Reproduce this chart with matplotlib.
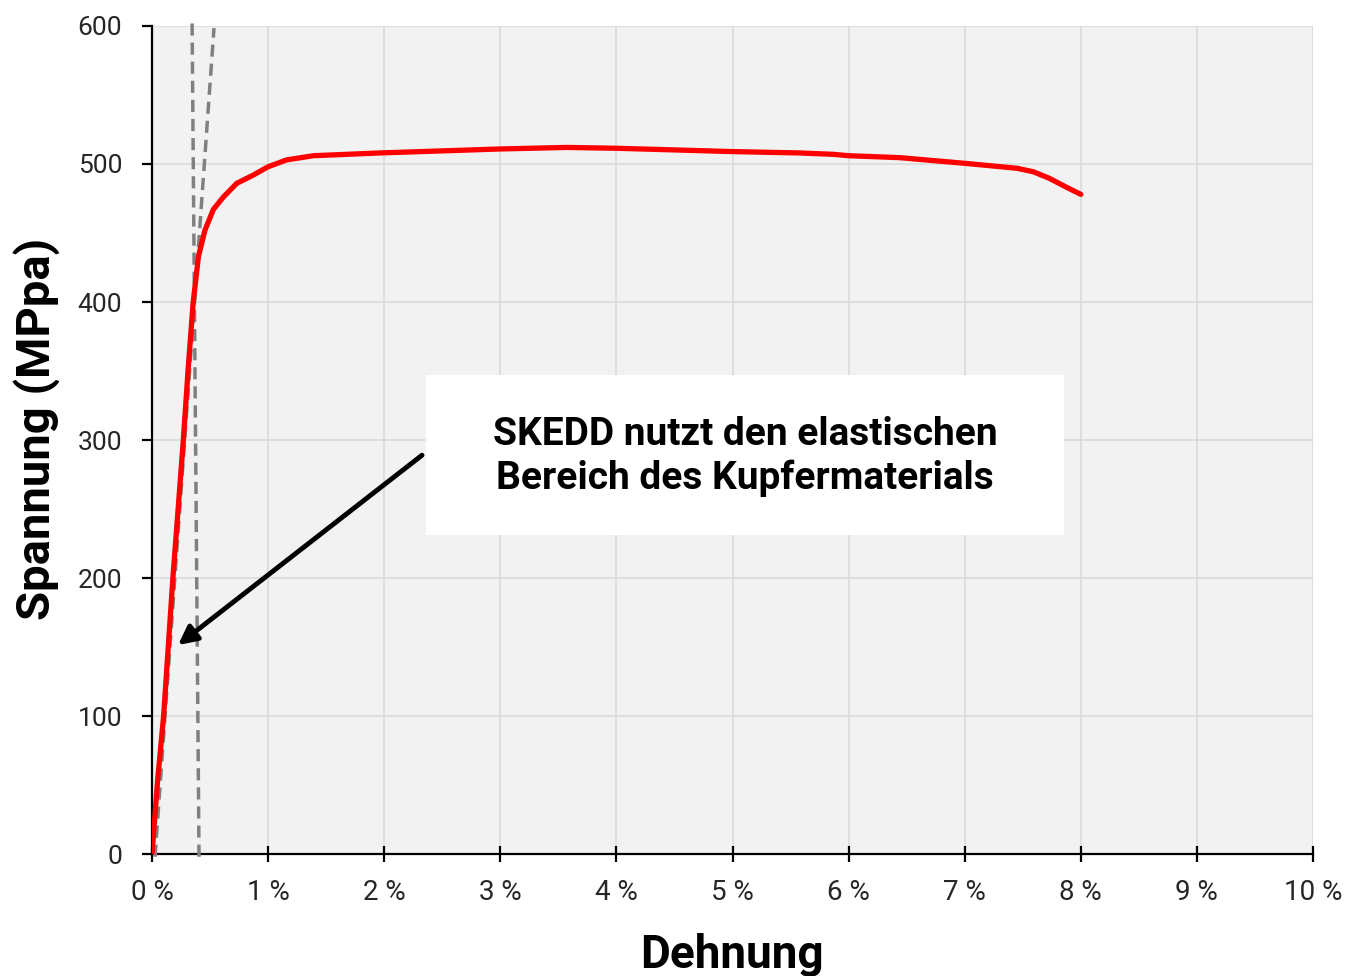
import matplotlib
matplotlib.use('Agg')
from matplotlib import pyplot as plt
from matplotlib.patches import Rectangle

# Spannungs-Dehnungs-Kurve (Dehnung in %, Spannung in MPa)
dehnung = [0, 0.05, 0.10, 0.18, 0.27, 0.31, 0.355, 0.40, 0.456, 0.528, 0.614, 0.73,
           0.873, 1.0, 1.16, 1.39, 1.96, 3.0, 3.57, 4.0, 5.0, 5.58, 5.87, 6.0,
           6.44, 7.0, 7.45, 7.59, 7.73, 7.88, 8.0]
spannung = [0, 55, 100, 200, 300, 350, 400, 433, 452, 467, 476, 486,
            492, 498, 503, 506, 508, 510.9, 512, 511.4, 509, 508, 507, 506,
            504.6, 500.5, 496.9, 494.4, 489.6, 483, 478]

# elastische Geraden (gestrichelt)
gerade1_x = [0.405, 0.345]
gerade1_y = [-2, 606]
gerade2_x = [0.026, 0.534]
gerade2_y = [-2, 598.5]

xticks = list(range(0, 11))
xlabels = ['%d %%' % v for v in xticks]
yticks = list(range(0, 601, 100))

box_text = 'SKEDD nutzt den elastischen\nBereich des Kupfermaterials'
pfeil_start = (2.326, 289)
pfeil_ziel = (0.224, 151.4)

plt.rcParams['font.family'] = ['Roboto', 'DejaVu Sans']

fig = plt.figure(figsize=(13.57, 9.76), dpi=100)
ax = fig.add_axes([152 / 1357, 1 - 854 / 976, (1313 - 152) / 1357, (854 - 26) / 976])
ax.set_facecolor('#f2f2f2')

ax.set_xlim(0, 10)
ax.set_ylim(0, 600)
ax.set_xticks(xticks)
ax.set_xticklabels(xlabels)
ax.set_yticks(yticks)
ax.grid(True, color='#d9d9d9', lw=1.1)
ax.set_axisbelow(True)

for s in ['top', 'right']:
    ax.spines[s].set_visible(False)
for s in ['left', 'bottom']:
    ax.spines[s].set_linewidth(1.6)
    ax.spines[s].set_color('black')

ax.tick_params(axis='y', direction='out', length=7.5, width=1.6, pad=14,
               labelsize=19, labelcolor='#262626')
ax.tick_params(axis='x', direction='inout', length=12, width=1.6, pad=12,
               labelsize=20, labelcolor='#262626')

ax.plot(gerade1_x, gerade1_y, ls=(0, (3.5, 2)), color='#808080', lw=2.5, clip_on=False, zorder=3)
ax.plot(gerade2_x, gerade2_y, ls=(0, (3.5, 2)), color='#808080', lw=2.5, clip_on=False, zorder=3)
ax.plot(dehnung, spannung, color='#ff0000', lw=3.8, solid_capstyle='round',
        solid_joinstyle='round', zorder=4)

# weißes Textfeld
ax.add_patch(Rectangle((2.36, 231.2), 7.855 - 2.36, 347.1 - 231.2,
                       facecolor='white', edgecolor='none', zorder=5))
ax.text(5.11, 288, box_text, ha='center', va='center', fontsize=28,
        fontweight='bold', linespacing=1.2, zorder=6)

ax.annotate('', xy=pfeil_ziel, xytext=pfeil_start,
            arrowprops=dict(arrowstyle='-|>', lw=3.5, color='black',
                            mutation_scale=28, shrinkA=0, shrinkB=0), zorder=6)

fig.text(37 / 1357, 1 - 429 / 976, 'Spannung (MPpa)', rotation=90, ha='center',
         va='center', fontsize=34, fontweight='bold')
fig.text(732 / 1357, 1 - 968 / 976, 'Dehnung', ha='center', va='baseline',
         fontsize=33, fontweight='bold')

fig.savefig('out.png', dpi=100)
